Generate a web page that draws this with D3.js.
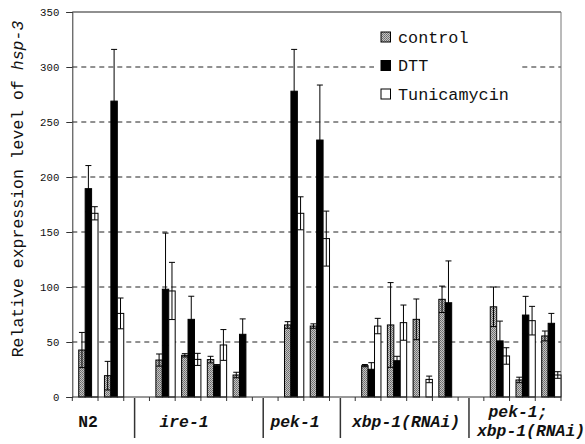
<!DOCTYPE html>
<html><head><meta charset="utf-8">
<script src="https://cdn.jsdelivr.net/npm/d3@7"></script>
<style>
html,body{margin:0;padding:0;background:#fff;}
svg{display:block;}
text{font-family:"Liberation Mono","Courier New",monospace;fill:#111;}
</style></head>
<body>
<svg id="chart" width="585" height="444"></svg>
<script>
// ---- data ----
const groups = ["N2", "ire-1", "pek-1", "xbp-1(RNAi)", "pek-1;\nxbp-1(RNAi)"];
// group index of each of the 19 slots on the x axis (null = empty spacer slot)
const slotGroup = [0,0,null,1,1,1,1,null,2,2,null,3,3,3,3,null,4,4,4];
const seriesNames = ["control", "DTT", "Tunicamycin"];
const control    = [42.7, 19.4, null, 33.6, 37.9, 34.0, 20.0, null, 65.5, 64.5, null, 28.5, 65.5, 70.6, 88.8, null, 82.0, 15.5, 55.5];
const controlErr = [16,   13,   null, 5.5,  1.5,  3,    2.5,  null, 3,    2,    null, 1,    38.5, 18.5, 12,   null, 18,   2.5,  4.5];
const dtt        = [189.4, 269, null, 98.0, 70.6, 28.5, 57.0, null, 278, 233.6, null, 25.2, 33.0, null, 85.7, null, 51.0, 74.5, 67.0];
const dttErr     = [21,   47,   null, 51,   21,   1,    14,   null, 38,   50,   null, 6,    4,    null, 38,   null, 18,   17,   9];
const tunica     = [167,  76,   null, 96.4, 34.2, 47.3, null, null, 167,  144,  null, 64.5, 67.6, 16.0, null, null, 37.3, 69.4, 20.0];
const tunicaErr  = [6,    14,   null, 26,   5.5,  14,   null, null, 15,   25,   null, 7,    16,   3,    null, null, 7.5,  13,   3];
const yTicks = [0, 50, 100, 150, 200, 250, 300, 350];

// ---- layout ----
const L = 72.3, R = 561, T = 12, B = 397;
const svg = d3.select("#chart");
const slots = d3.range(slotGroup.length);
const x0 = d3.scaleBand().domain(slots).range([L, R]).padding(0);
const x1 = d3.scaleBand().domain(["gap", ...seriesNames]).range([0, x0.bandwidth()]).padding(0);
const y = d3.scaleLinear().domain([0, 350]).range([B, T]);

// pattern for control bars (stippled grey)
const defs = svg.append("defs");
const pat = defs.append("pattern").attr("id", "stip").attr("patternUnits", "userSpaceOnUse")
  .attr("width", 2).attr("height", 2);
pat.append("rect").attr("width", 2).attr("height", 2).attr("fill", "#c4c4c4");
pat.append("rect").attr("x", 0).attr("y", 0).attr("width", 1).attr("height", 1).attr("fill", "#6a6a6a");
pat.append("rect").attr("x", 1).attr("y", 1).attr("width", 1).attr("height", 1).attr("fill", "#7a7a7a");

// gridlines
svg.append("g").selectAll("line").data(yTicks.filter(v => v > 0 && v < 350)).join("line")
  .attr("x1", L).attr("x2", R).attr("y1", d => y(d)).attr("y2", d => y(d))
  .attr("stroke", "#222").attr("stroke-width", 1).attr("stroke-dasharray", "5,4");

// frame
svg.append("line").attr("x1", L).attr("x2", R).attr("y1", T).attr("y2", T).attr("stroke", "#222").attr("stroke-width", 1.2);
svg.append("line").attr("x1", R).attr("x2", R).attr("y1", T).attr("y2", B).attr("stroke", "#777").attr("stroke-width", 1);

// bars
const series = [
  {name: "control", vals: control, errs: controlErr, fill: "url(#stip)"},
  {name: "DTT", vals: dtt, errs: dttErr, fill: "#000"},
  {name: "Tunicamycin", vals: tunica, errs: tunicaErr, fill: "#fff"}
];
const barData = [];
series.forEach(s => slots.forEach(i => {
  if (s.vals[i] != null) barData.push({slot: i, name: s.name, v: s.vals[i], e: s.errs[i], fill: s.fill});
}));
const bw = x1.bandwidth();
const gB = svg.append("g");
gB.selectAll("rect").data(barData).join("rect")
  .attr("x", d => x0(d.slot) + x1(d.name))
  .attr("y", d => y(d.v))
  .attr("width", bw)
  .attr("height", d => B - y(d.v))
  .attr("fill", d => d.fill)
  .attr("stroke", "#000").attr("stroke-width", 1);

// error bars
const gE = svg.append("g").attr("stroke", "#000").attr("stroke-width", 1);
barData.forEach(d => {
  const cx = x0(d.slot) + x1(d.name) + bw / 2;
  const hi = y(d.v + d.e), lo = y(Math.max(0, d.v - d.e));
  gE.append("line").attr("x1", cx).attr("x2", cx).attr("y1", hi).attr("y2", lo);
  gE.append("line").attr("x1", cx - 3).attr("x2", cx + 3).attr("y1", hi).attr("y2", hi);
  gE.append("line").attr("x1", cx - 3).attr("x2", cx + 3).attr("y1", lo).attr("y2", lo);
});

// y axis
const yAxis = d3.axisLeft(y).tickValues(yTicks).tickSize(6).tickPadding(7).tickFormat(d3.format("d"));
const gy = svg.append("g").attr("transform", `translate(${L},0)`).call(yAxis);
gy.select(".domain").attr("stroke", "#333");
gy.selectAll(".tick line").attr("stroke", "#333");
gy.selectAll(".tick text").style("font-family", '"Liberation Mono", monospace').style("font-size", "10.7px").attr("fill", "#111");

// x axis line + slot ticks
svg.append("line").attr("x1", L).attr("x2", R).attr("y1", B).attr("y2", B).attr("stroke", "#333").attr("stroke-width", 1);
const bounds = slots.map(i => x0(i)).concat([x0(slots.length - 1) + x0.bandwidth()]);
svg.append("g").selectAll("line").data(bounds).join("line")
  .attr("x1", d => d).attr("x2", d => d).attr("y1", B).attr("y2", B + 4)
  .attr("stroke", "#333").attr("stroke-width", 1);

// group separators (in the empty spacer slots)
const sepSlots = slots.filter(i => slotGroup[i] === null);
svg.append("g").selectAll("line").data(sepSlots).join("line")
  .attr("x1", d => x0(d) + x0.bandwidth() / 2 - 2).attr("x2", d => x0(d) + x0.bandwidth() / 2 - 2)
  .attr("y1", B + 1).attr("y2", 438)
  .attr("stroke", "#333").attr("stroke-width", 1.5);

// group labels
const labelPos = [{cx: 88, base: 427}, {cx: 184, base: 427}, {cx: 295, base: 427}, {cx: 406, base: 427}, {cx: [518, 531], base: [417, 436]}];
groups.forEach((g, gi) => {
  const lines = g.split("\n");
  const p = labelPos[gi];
  lines.forEach((ln, li) => {
    svg.append("text")
      .attr("x", Array.isArray(p.cx) ? p.cx[li] : p.cx)
      .attr("y", Array.isArray(p.base) ? p.base[li] : p.base)
      .attr("text-anchor", "middle")
      .style("font-size", "16.4px").style("font-weight", "bold")
      .style("font-style", gi === 0 ? "normal" : "italic")
      .text(ln);
  });
});

// y title
const yt = svg.append("text").attr("transform", "translate(23,189) rotate(-90)")
  .attr("text-anchor", "middle").style("font-size", "16.5px");
yt.append("tspan").text("Relative expression level of ");
yt.append("tspan").style("font-style", "italic").text("hsp-3");

// legend
const lg = svg.append("g");
lg.append("rect").attr("x", 374).attr("y", 20).attr("width", 146).attr("height", 88).attr("fill", "#fff");
const legFill = ["url(#stip)", "#000", "#fff"];
seriesNames.forEach((n, i) => {
  const yy = 32 + i * 28.5;
  lg.append("rect").attr("x", 381).attr("y", yy).attr("width", 9.5).attr("height", 10)
    .attr("fill", legFill[i]).attr("stroke", "#000").attr("stroke-width", 1);
  lg.append("text").attr("x", 398).attr("y", yy + 10.5).style("font-size", "16.8px").text(n);
});
</script>
</body></html>
